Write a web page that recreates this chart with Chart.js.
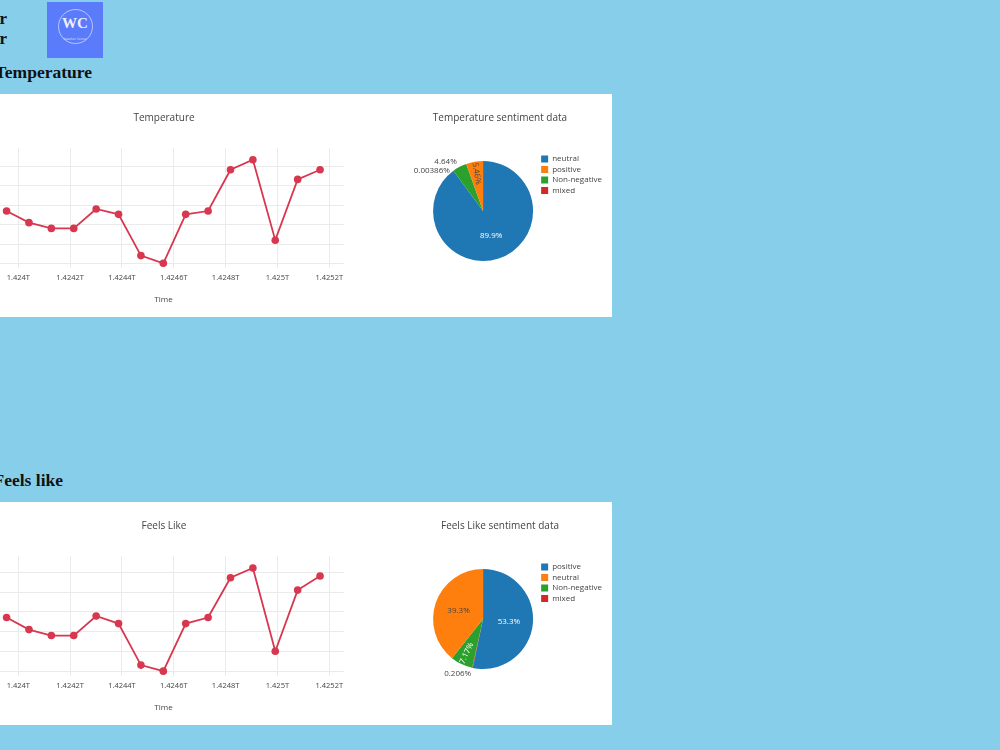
<!DOCTYPE html>
<html>
<head>
<meta charset="utf-8">
<script src="https://cdn.jsdelivr.net/npm/chart.js@4.4.1/dist/chart.umd.min.js"></script>
<style>
    html, body { margin: 0; padding: 0; }
    body {
        width: 1000px; height: 750px; overflow: hidden; position: relative;
        background: #87ceeb; font-family: "Liberation Serif", "Times New Roman", serif;
    }
    .brand { position: absolute; right: 993px; top: 9px; text-align: right; font-weight: bold; font-size: 17px; line-height: 20px; white-space: nowrap; color: #111; }
    .logo { position: absolute; left: 47px; top: 2px; width: 56px; height: 56px; background: #5b7cfa; }
    .logo .ring { position: absolute; left: 11px; top: 7px; width: 33px; height: 33px; border: 1px solid rgba(255,255,255,0.55); border-radius: 50%; }
    .logo .wc { position: absolute; left: 0; width: 56px; top: 13px; text-align: center; color: #eef; font-size: 15px; font-weight: bold; }
    .logo .sub { position: absolute; left: 0; width: 56px; top: 35px; text-align: center; color: #dde; font-size: 3px; font-family: "DejaVu Sans", sans-serif; }
    .heading { position: absolute; font-weight: bold; font-size: 17.5px; white-space: nowrap; color: #111; }
    .panel { position: absolute; left: -200px; width: 812px; height: 223px; background: #fff; }
    .box { position: absolute; }
</style>
</head>
<body>
<div class="brand">Weather<br>Center</div>
<div class="logo"><div class="ring"></div><div class="wc">WC</div><div class="sub">Weather Center</div></div>

<div class="heading" style="right: 908px; top: 62px;">Temperature</div>
<div class="panel" style="top: 94px;"></div>
<div class="box" style="left: -116px; top: 94px; width: 560px; height: 223px;"><canvas id="tempLine"></canvas></div>
<div class="box" style="left: 388px; top: 94px; width: 224px; height: 223px;"><canvas id="tempPie"></canvas></div>

<div class="heading" style="right: 937px; top: 470px;">Feels like</div>
<div class="panel" style="top: 502px;"></div>
<div class="box" style="left: -116px; top: 502px; width: 560px; height: 223px;"><canvas id="feelsLine"></canvas></div>
<div class="box" style="left: 388px; top: 502px; width: 224px; height: 223px;"><canvas id="feelsPie"></canvas></div>

<script>
    // Daily readings, time axis in epoch ms
    var TIMES = [
        1423954800000, 1424041200000, 1424127600000, 1424214000000, 1424300400000,
        1424386800000, 1424473200000, 1424559600000, 1424646000000, 1424732400000,
        1424818800000, 1424905200000, 1424991600000, 1425078000000, 1425164400000
    ];
    var TEMP_VALUES = [7.39, 6.2, 5.61, 5.61, 7.6, 7.05, 2.82, 2.03, 7.05, 7.39, 11.62, 12.65, 4.4, 10.63, 11.62];
    var FEELS_VALUES = [3.44, 2.22, 1.62, 1.62, 3.6, 2.83, -1.36, -1.97, 2.83, 3.44, 7.45, 8.44, 0.03, 6.21, 7.63];

    var X_TICKS = [1.424e12, 1.4242e12, 1.4244e12, 1.4246e12, 1.4248e12, 1.425e12, 1.4252e12];
    var X_RANGE = [1.4238638e12, 1.4252568e12];
    var TEMP_Y_TICKS = [2, 4, 6, 8, 10, 12];
    var TEMP_Y_RANGE = [1.6, 13.85];
    var FEELS_Y_TICKS = [-2, 0, 2, 4, 6, 8];
    var FEELS_Y_RANGE = [-2.41, 9.65];

    // Sentiment slices, listed clockwise from 12 o'clock
    var TEMP_PIE_LABELS = ['neutral', 'mixed', 'Non-negative', 'positive'];
    var TEMP_PIE_VALUES = [89.9, 0.00386, 4.64, 5.46];
    var TEMP_LEGEND_ORDER = ['neutral', 'positive', 'Non-negative', 'mixed'];
    var FEELS_PIE_LABELS = ['positive', 'mixed', 'Non-negative', 'neutral'];
    var FEELS_PIE_VALUES = [53.3, 0.206, 7.17, 39.3];
    var FEELS_LEGEND_ORDER = ['positive', 'neutral', 'Non-negative', 'mixed'];

    var LINE_RED = '#d7374f';
    var SLICE_COLORS = ['#1f77b4', '#d62728', '#2ca02c', '#ff7f0e'];
    var GRID = '#ebebeb';
    var TEXT = '#444';
    var FONT = 'Open Sans';

    function lum(hex) {
        var r = parseInt(hex.substr(1, 2), 16), g = parseInt(hex.substr(3, 2), 16), b = parseInt(hex.substr(5, 2), 16);
        return (0.299 * r + 0.587 * g + 0.114 * b) / 255;
    }

    // Empty axis used only to reserve room beside the plot
    function spacerAxis(position, width) {
        return {
            type: 'linear', position: position, display: true,
            grid: { display: false }, ticks: { display: false }, border: { display: false },
            afterFit: function (s) { s.width = width; },
        };
    }

    // Plotly-like percent labels on slices
    var pieText = {
        id: 'pieText',
        afterDatasetsDraw: function (chart) {
            var ds = chart.data.datasets[0];
            var meta = chart.getDatasetMeta(0);
            var total = ds.data.reduce(function (a, b) { return a + b; }, 0);
            var ctx = chart.ctx;
            var outside = [];
            ctx.save();
            ctx.font = '8px "' + FONT + '"';
            ctx.textBaseline = 'middle';
            meta.data.forEach(function (arc, i) {
                var p = arc.getProps(['x', 'y', 'startAngle', 'endAngle', 'outerRadius'], true);
                var pct = ds.data[i] / total * 100;
                var text = Number(pct.toPrecision(3)) + '%';
                var mid = (p.startAngle + p.endAngle) / 2;
                var r = p.outerRadius;
                if (pct < 5) {
                    outside.push({ text: text, x: p.x + Math.cos(mid) * (r + 6), y: p.y + Math.sin(mid) * (r + 6), left: Math.cos(mid) < 0 });
                    return;
                }
                ctx.fillStyle = lum(ds.backgroundColor[i]) > 0.5 ? TEXT : '#fff';
                ctx.textAlign = 'center';
                if (pct < 15) {
                    var rot = mid + Math.PI;
                    while (rot > Math.PI / 2) rot -= Math.PI;
                    while (rot <= -Math.PI / 2) rot += Math.PI;
                    ctx.save();
                    ctx.translate(p.x + Math.cos(mid) * r * 0.76, p.y + Math.sin(mid) * r * 0.76);
                    ctx.rotate(rot);
                    ctx.fillText(text, 0, 0);
                    ctx.restore();
                } else {
                    ctx.fillText(text, p.x + Math.cos(mid) * r * 0.52, p.y + Math.sin(mid) * r * 0.52);
                }
            });
            outside.sort(function (a, b) { return a.y - b.y; });
            var lastY = -1e9;
            ctx.fillStyle = TEXT;
            outside.forEach(function (o) {
                var y = Math.max(o.y, lastY + 9);
                lastY = y;
                ctx.textAlign = o.left ? 'right' : 'left';
                ctx.fillText(o.text, o.x, y);
            });
            ctx.restore();
        }
    };

    function renderLineChart(canvasId, title, values, yRange, yTicks) {
        var canvas = document.getElementById(canvasId);
        return new Chart(canvas, {
            type: 'line',
            data: {
                datasets: [{
                    data: TIMES.map(function (t, i) { return { x: t, y: values[i] }; }),
                    borderColor: LINE_RED,
                    backgroundColor: LINE_RED,
                    borderWidth: 1.8,
                    pointRadius: 3.8,
                    pointBorderWidth: 0,
                    tension: 0,
                }],
            },
            options: {
                responsive: true,
                maintainAspectRatio: false,
                animation: false,
                layout: { padding: { left: 0, right: 0, top: 0, bottom: 9.2 } },
                plugins: {
                    legend: { display: false },
                    tooltip: { enabled: false },
                    title: {
                        display: true, text: title, color: TEXT,
                        font: { family: FONT, size: 10, weight: 'normal' },
                        padding: { top: 17.9, bottom: 24.1 },
                    },
                },
                scales: {
                    x: {
                        type: 'linear', min: X_RANGE[0], max: X_RANGE[1],
                        afterBuildTicks: function (s) { s.ticks = X_TICKS.map(function (v) { return { value: v }; }); },
                        ticks: {
                            autoSkip: false, maxRotation: 0, padding: 5.5, color: TEXT,
                            font: { family: FONT, size: 7.5 },
                            callback: function (v) { return parseFloat((v / 1e12).toFixed(4)) + 'T'; },
                        },
                        grid: { color: GRID, drawTicks: false },
                        border: { display: false },
                        title: {
                            display: true, text: 'Time', color: TEXT,
                            font: { family: FONT, size: 8 },
                            padding: { top: 7.7, bottom: 3 },
                        },
                    },
                    y: {
                        min: yRange[0], max: yRange[1],
                        afterBuildTicks: function (s) { s.ticks = yTicks.map(function (v) { return { value: v }; }); },
                        afterFit: function (s) { s.width = 99; },
                        ticks: { color: TEXT, font: { family: FONT, size: 7.5 }, padding: 5 },
                        grid: { color: GRID, drawTicks: false },
                        border: { display: false },
                    },
                    yPad: spacerAxis('right', 100),
                },
            },
        });
    }

    function renderPieChart(canvasId, title, labels, values, legendOrder) {
        var canvas = document.getElementById(canvasId);
        return new Chart(canvas, {
            type: 'pie',
            data: {
                labels: labels,
                datasets: [{
                    data: values,
                    backgroundColor: SLICE_COLORS,
                    borderWidth: 0,
                    radius: 50,
                }],
            },
            options: {
                responsive: true,
                maintainAspectRatio: false,
                animation: false,
                layout: { padding: { left: 0, right: 0, top: 0, bottom: 47.5 } },
                scales: { yPad: spacerAxis('left', 39.5) },
                plugins: {
                    tooltip: { enabled: false },
                    title: {
                        display: true, text: title, color: TEXT,
                        font: { family: FONT, size: 10, weight: 'normal' },
                        padding: { top: 17.9, bottom: 28.6 },
                    },
                    legend: {
                        position: 'right', align: 'start', fullSize: false, maxWidth: 140,
                        labels: {
                            boxWidth: 7, boxHeight: 7, padding: 2.5, color: TEXT,
                            font: { family: FONT, size: 8 },
                            sort: function (a, b) { return legendOrder.indexOf(a.text) - legendOrder.indexOf(b.text); },
                        },
                    },
                },
            },
            plugins: [pieText],
        });
    }

    renderLineChart('tempLine', 'Temperature', TEMP_VALUES, TEMP_Y_RANGE, TEMP_Y_TICKS);
    renderPieChart('tempPie', 'Temperature sentiment data', TEMP_PIE_LABELS, TEMP_PIE_VALUES, TEMP_LEGEND_ORDER);
    renderLineChart('feelsLine', 'Feels Like', FEELS_VALUES, FEELS_Y_RANGE, FEELS_Y_TICKS);
    renderPieChart('feelsPie', 'Feels Like sentiment data', FEELS_PIE_LABELS, FEELS_PIE_VALUES, FEELS_LEGEND_ORDER);
</script>
</body>
</html>
